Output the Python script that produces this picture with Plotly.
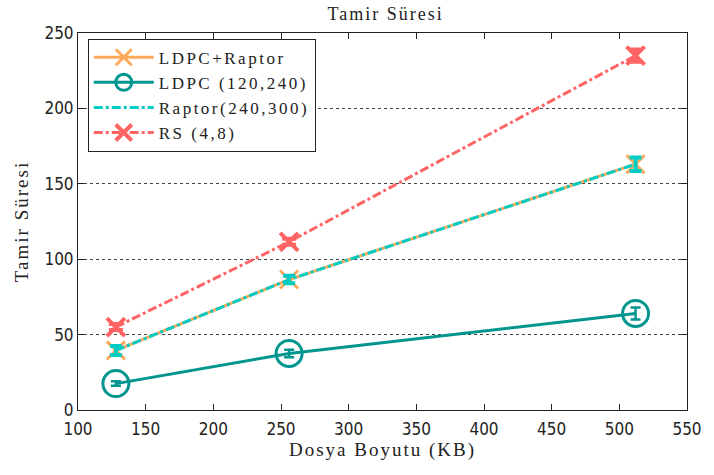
import plotly.graph_objects as go

# File sizes (KB) and repair times per coding scheme
sizes = [128, 256, 512]
ldpc_raptor = [39.5, 86.5, 163]
ldpc = [17.5, 37.5, 64]
raptor = [39.5, 86.5, 163]
rs = [55, 111.5, 235]

ldpc_err = [1.5, 2.5, 4]
raptor_err = [3, 2.5, 4.5]
rs_err = [2, 2, 4]

names = ["LDPC+Raptor", "LDPC (120,240)", "Raptor(240,300)", "RS (4,8)"]
x_ticks = [100, 150, 200, 250, 300, 350, 400, 450, 500, 550]
y_ticks = [0, 50, 100, 150, 200, 250]

orange = "#FFAA5A"
teal = "#00968F"
cyan = "#00CCC4"
salmon = "#FF6464"

serif = "Liberation Serif, DejaVu Serif, serif"
narrow = "Liberation Sans Narrow, DejaVu Sans Condensed, Liberation Sans, sans-serif"


def spaced(text, px=2):
    return f'<span style="letter-spacing:{px}px">{text}</span>'


fig = go.Figure()

fig.add_trace(go.Scatter(
    x=sizes, y=ldpc_raptor, name=spaced(names[0], 2.5), mode="lines+markers",
    line=dict(color=orange, width=3),
    marker=dict(symbol="x-thin", size=18, line=dict(color=orange, width=3)),
))

fig.add_trace(go.Scatter(
    x=sizes, y=ldpc, name=spaced(names[1], 2.5), mode="lines+markers",
    line=dict(color=teal, width=3),
    marker=dict(symbol="circle-open", size=26, color=teal, line=dict(color=teal, width=3)),
    error_y=dict(type="data", array=ldpc_err, color=teal, thickness=2.5, width=5),
))

fig.add_trace(go.Scatter(
    x=sizes, y=raptor, name=spaced(names[2], 2.5), mode="lines",
    line=dict(color=cyan, width=3, dash="dashdot"),
    error_y=dict(type="data", array=raptor_err, color=cyan, thickness=4, width=6),
))

fig.add_trace(go.Scatter(
    x=sizes, y=rs, name=spaced(names[3], 2.5), mode="lines+markers",
    line=dict(color=salmon, width=3, dash="dashdot"),
    marker=dict(symbol="x-thin", size=18, line=dict(color=salmon, width=4)),
    error_y=dict(type="data", array=rs_err, color=salmon, thickness=4, width=7),
))

fig.update_layout(
    width=714, height=475,
    margin=dict(l=78, r=17, t=33, b=65),
    paper_bgcolor="white", plot_bgcolor="white",
    title=dict(text=spaced("Tamir Süresi", 2), x=0.54, xanchor="center", y=0.985, yanchor="top",
               font=dict(family=serif, size=18, color="#222")),
    legend=dict(x=0.016, y=0.985, xanchor="left", yanchor="top",
                bgcolor="white", bordercolor="#222", borderwidth=1,
                font=dict(family=serif, size=17, color="#222"),
                tracegroupgap=0, itemwidth=60),
    showlegend=True,
)

fig.update_xaxes(
    range=[100, 550], tickvals=x_ticks, ticktext=[str(v) for v in x_ticks],
    showgrid=False, zeroline=False,
    showline=True, linecolor="#222", linewidth=1, mirror="ticks",
    ticks="inside", ticklen=6, tickcolor="#222", ticklabelstandoff=4,
    tickfont=dict(family=narrow, size=17, color="#222"),
    title=dict(text=spaced("Dosya Boyutu (KB)", 2), font=dict(family=serif, size=19, color="#222"), standoff=4),
)

fig.update_yaxes(
    range=[0, 250], tickvals=y_ticks, ticktext=[str(v) for v in y_ticks],
    showgrid=True, gridcolor="#444", griddash="dot", gridwidth=1,
    zeroline=False,
    showline=True, linecolor="#222", linewidth=1, mirror="ticks",
    ticks="inside", ticklen=6, tickcolor="#222",
    tickfont=dict(family=narrow, size=17, color="#222"),
    title=dict(text=spaced("Tamir Süresi", 2), font=dict(family=serif, size=19, color="#222"), standoff=10),
)

fig.write_html("out.html")
